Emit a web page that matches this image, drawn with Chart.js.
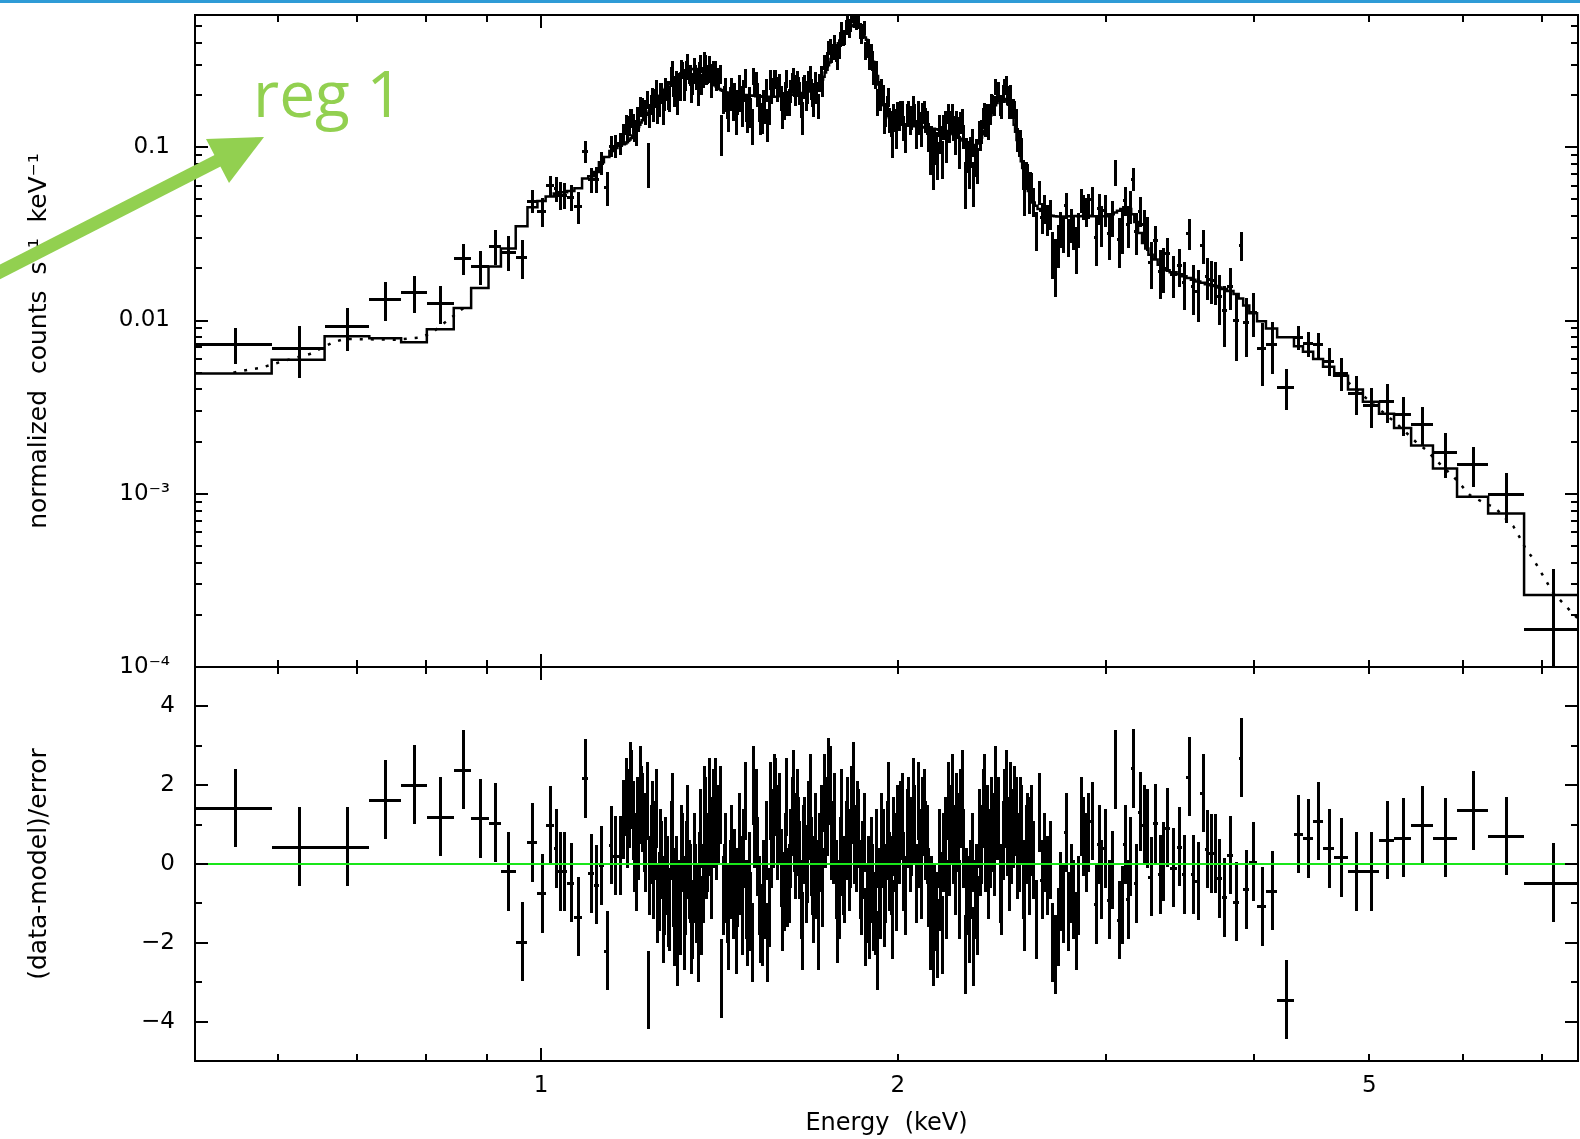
<!DOCTYPE html>
<html>
<head>
<meta charset="utf-8">
<title>reg 1 – normalized counts and residuals</title>
<script src="https://cdn.jsdelivr.net/npm/chart.js@4.4.1/dist/chart.umd.min.js"></script>
<style>
  html, body { margin: 0; padding: 0; background: #fff; }
  body { width: 1580px; height: 1139px; position: relative; overflow: hidden; }
  canvas { position: absolute; left: 0; }
  #spec { top: 0; }
  #resid { top: 654px; }
  #overlay { position: absolute; left: 0; top: 0; pointer-events: none; }
</style>
</head>
<body>
<canvas id="spec" width="1580" height="680"></canvas>
<canvas id="resid" width="1580" height="485"></canvas>
<svg id="overlay" width="1580" height="1139" xmlns="http://www.w3.org/2000/svg">
  <rect x="0" y="0" width="1580" height="3" fill="#2e9bd6"/>
  <line x1="-8" y1="276" x2="221" y2="159" stroke="#92d050" stroke-width="13"/>
  <polygon points="264,137 206,139 229,183" fill="#92d050"/>
  <text x="253" y="117" font-family="Open Sans" font-size="64" fill="#92d050">reg 1</text>
</svg>
<script>
// ---------------- data ----------------
// bin edges in keV (N+1 values)
const binEdges = [
  0.5105, 0.5925, 0.6567, 0.7163, 0.762, 0.801, 0.844, 0.873, 0.903, 0.925, 0.952, 0.974, 0.993, 1.009, 1.025, 1.033, 1.041, 1.052, 1.067, 1.083, 1.096, 1.108, 1.119, 1.130, 1.142, 1.151, 1.160, 1.170,
  1.177, 1.1805, 1.184, 1.187, 1.190, 1.1935, 1.197, 1.200, 1.203, 1.2065, 1.210, 1.213, 1.216, 1.2195, 1.223, 1.226, 1.229, 1.2325, 1.236, 1.239,
  1.242, 1.2455, 1.249, 1.252, 1.255, 1.2585, 1.262, 1.265, 1.268, 1.2715, 1.275, 1.278, 1.281, 1.2845, 1.288, 1.291, 1.294, 1.2975, 1.301, 1.3045,
  1.308, 1.311, 1.314, 1.3175, 1.321, 1.324, 1.327, 1.3305, 1.334, 1.337, 1.340, 1.3435, 1.347, 1.3505, 1.354, 1.357, 1.360, 1.3635, 1.367, 1.3705,
  1.374, 1.377, 1.380, 1.3835, 1.387, 1.3905, 1.394, 1.397,
  1.400, 1.404, 1.408, 1.4125, 1.417, 1.421, 1.425, 1.429, 1.433, 1.437, 1.441, 1.4455, 1.450, 1.454, 1.458, 1.462, 1.466, 1.4705, 1.475, 1.479,
  1.483, 1.487, 1.491, 1.4955, 1.500, 1.504, 1.508, 1.512, 1.516, 1.5205, 1.525, 1.529, 1.533, 1.537, 1.541, 1.5455, 1.550, 1.554, 1.558, 1.562,
  1.566, 1.5705, 1.575, 1.579, 1.583, 1.587, 1.591, 1.5955, 1.600, 1.604, 1.608, 1.612, 1.616, 1.6205, 1.625, 1.629, 1.633, 1.637, 1.641, 1.6455,
  1.650, 1.654, 1.658, 1.662, 1.666, 1.6705, 1.675, 1.679, 1.683, 1.687, 1.691, 1.6955,
  1.700, 1.705, 1.710, 1.715, 1.720, 1.725, 1.730, 1.735, 1.740, 1.745, 1.750, 1.755, 1.760, 1.765, 1.770, 1.775, 1.780, 1.785, 1.790, 1.795,
  1.800, 1.805, 1.810, 1.815, 1.820, 1.825, 1.830, 1.835, 1.840, 1.845, 1.850, 1.855, 1.860, 1.865, 1.870, 1.875, 1.880, 1.885, 1.890, 1.895,
  1.900, 1.905, 1.910, 1.915, 1.920, 1.925, 1.930, 1.935, 1.940, 1.945, 1.950, 1.955, 1.960, 1.965, 1.970, 1.975, 1.980, 1.985, 1.990, 1.995,
  2.000, 2.006, 2.012, 2.0185, 2.025, 2.0315, 2.038, 2.044, 2.050, 2.056, 2.062, 2.0685, 2.075, 2.0815, 2.088, 2.094, 2.100, 2.106, 2.112, 2.1185,
  2.125, 2.1315, 2.138, 2.144, 2.150, 2.156, 2.162, 2.1685, 2.175, 2.1815, 2.188, 2.194, 2.200, 2.206, 2.212, 2.2185, 2.225, 2.2315, 2.238, 2.244,
  2.250, 2.256, 2.262, 2.2685, 2.275, 2.2815, 2.288, 2.294, 2.300, 2.306, 2.312, 2.3185, 2.325, 2.3315, 2.338, 2.344, 2.350, 2.356, 2.362, 2.3685,
  2.375, 2.3815, 2.388, 2.394,
  2.400, 2.407, 2.414, 2.421, 2.428, 2.435, 2.442, 2.449, 2.456, 2.463, 2.470, 2.477, 2.484, 2.491, 2.498, 2.505, 2.512, 2.519, 2.526, 2.533,
  2.540, 2.547, 2.554, 2.561, 2.568, 2.575, 2.582, 2.589,
  2.596, 2.610, 2.624, 2.638, 2.652, 2.666, 2.680, 2.694, 2.708, 2.722, 2.736, 2.750, 2.764, 2.778, 2.792, 2.806, 2.820, 2.834, 2.848, 2.862, 2.876, 2.890,
  2.904, 2.928, 2.948, 2.962, 2.980, 3.002, 3.024, 3.043, 3.062, 3.082, 3.100, 3.118, 3.134, 3.148, 3.167, 3.190, 3.215, 3.235, 3.255, 3.282, 3.314, 3.340, 3.361, 3.392, 3.438, 3.475, 3.505, 3.535, 3.566, 3.600, 3.632, 3.661, 3.689, 3.719, 3.752, 3.792, 3.840, 3.879, 3.913, 3.960, 4.020, 4.090,
  4.180, 4.319, 4.395, 4.483, 4.570, 4.670, 4.797, 4.938, 5.095, 5.246, 5.423, 5.658, 5.929, 6.298, 6.754, 7.53
];

// folded model per bin (normalized counts s^-1 keV^-1)
const modelCounts = [
  0.00494, 0.00594, 0.0081, 0.0079, 0.0075, 0.0089, 0.0118, 0.0154, 0.0205, 0.026, 0.035, 0.045, 0.049, 0.052, 0.054, 0.055, 0.055, 0.056, 0.058, 0.066, 0.068, 0.072, 0.082, 0.088, 0.095, 0.099, 0.102, 0.104,
  0.105, 0.107, 0.109, 0.111, 0.113, 0.117, 0.120, 0.124, 0.127, 0.131, 0.135, 0.139, 0.143, 0.147, 0.150, 0.154, 0.157, 0.161, 0.165, 0.169,
  0.174, 0.178, 0.183, 0.188, 0.193, 0.198, 0.203, 0.208, 0.212, 0.217, 0.222, 0.227, 0.232, 0.237, 0.241, 0.245, 0.249, 0.253, 0.257, 0.261,
  0.264, 0.267, 0.270, 0.273, 0.275, 0.277, 0.279, 0.280, 0.281, 0.282, 0.283, 0.283, 0.283, 0.283, 0.282, 0.280, 0.278, 0.275, 0.272, 0.268,
  0.264, 0.259, 0.255, 0.250, 0.245, 0.240, 0.236, 0.231,
  0.228, 0.224, 0.220, 0.217, 0.214, 0.212, 0.210, 0.208, 0.207, 0.206, 0.205, 0.205, 0.204, 0.204, 0.203, 0.203, 0.202, 0.202, 0.201, 0.201,
  0.200, 0.200, 0.199, 0.199, 0.199, 0.199, 0.198, 0.198, 0.197, 0.197, 0.197, 0.197, 0.196, 0.196, 0.196, 0.196, 0.196, 0.196, 0.196, 0.196,
  0.196, 0.196, 0.196, 0.196, 0.197, 0.197, 0.197, 0.197, 0.198, 0.198, 0.199, 0.199, 0.200, 0.200, 0.201, 0.201, 0.202, 0.202, 0.203, 0.203,
  0.204, 0.205, 0.206, 0.206, 0.207, 0.208, 0.209, 0.210, 0.211, 0.212, 0.213, 0.215,
  0.218, 0.220, 0.223, 0.228, 0.234, 0.246, 0.255, 0.270, 0.280, 0.297, 0.308, 0.323, 0.338, 0.353, 0.368, 0.383, 0.398, 0.413, 0.428, 0.443,
  0.455, 0.466, 0.476, 0.485, 0.491, 0.499, 0.505, 0.510, 0.510, 0.506, 0.500, 0.490, 0.480, 0.462, 0.452, 0.430, 0.418, 0.392, 0.380, 0.350,
  0.338, 0.312, 0.300, 0.270, 0.258, 0.230, 0.220, 0.198, 0.190, 0.175, 0.168, 0.160, 0.155, 0.149, 0.145, 0.141, 0.139, 0.138, 0.137, 0.136,
  0.136, 0.136, 0.135, 0.135, 0.134, 0.134, 0.134, 0.134, 0.133, 0.133, 0.132, 0.132, 0.131, 0.131, 0.131, 0.131, 0.130, 0.130, 0.129, 0.129,
  0.128, 0.128, 0.128, 0.128, 0.127, 0.127, 0.126, 0.126, 0.125, 0.125, 0.124, 0.124, 0.123, 0.122, 0.121, 0.120, 0.119, 0.118, 0.117, 0.115,
  0.114, 0.112, 0.111, 0.109, 0.108, 0.106, 0.105, 0.104, 0.103, 0.102, 0.102, 0.102, 0.103, 0.105, 0.107, 0.110, 0.114, 0.119, 0.124, 0.129,
  0.135, 0.141, 0.147, 0.153,
  0.160, 0.170, 0.175, 0.180, 0.185, 0.188, 0.190, 0.190, 0.190, 0.187, 0.183, 0.176, 0.168, 0.158, 0.148, 0.135, 0.123, 0.110, 0.100, 0.091,
  0.083, 0.076, 0.069, 0.064, 0.059, 0.056, 0.053, 0.050,
  0.048, 0.046, 0.044, 0.043, 0.042, 0.041, 0.0405, 0.0402, 0.0400, 0.0399, 0.0398, 0.0398, 0.0399, 0.0400, 0.0400, 0.0401, 0.0401, 0.0400, 0.0400, 0.0401, 0.0402, 0.0402,
  0.040, 0.040, 0.040, 0.040, 0.040, 0.041, 0.041, 0.042, 0.043, 0.044, 0.045, 0.045, 0.044, 0.041, 0.037, 0.032, 0.028, 0.026, 0.024, 0.0225, 0.021, 0.020, 0.0195, 0.019, 0.0185, 0.018, 0.0176, 0.0172, 0.0168, 0.0165, 0.0162, 0.0160, 0.0158, 0.0155, 0.0152, 0.0148, 0.0142, 0.0134, 0.0122, 0.0110, 0.0099, 0.0090,
  0.0080, 0.0071, 0.0066, 0.0060, 0.0054, 0.0048, 0.0040, 0.0034, 0.0029, 0.0024, 0.0019, 0.0014, 0.00096, 0.00077, 0.00026
];

// (data-model)/error per bin
const residuals = [
  1.42, 0.44, 0.44, 1.63, 2.01, 1.20, 2.39, 1.16, 1.05, -0.19, -1.97, 0.55, -0.74, 0.99, 0.40, -0.19, -0.19, -0.47, -1.34, 2.18, -0.24, -0.53, -0.03, -2.20, 0.48, 0.21, 0.21, 1.12,
  1.7, 0.9, 1.4, 2.1, 1.9, 1.1, 0.3, -0.2, 1.2, 0.6, 2.0, 1.5, 1.3, 0.8, 0.3, 1.6, -3.2, -0.3, 0.5, 1.1,
  -0.4, 0.6, 1.4, -1.0, -0.7, 0.4, 0.1, -1.5, -0.8, 0.2, -0.3, -1.1, -1.2, 0.6, 1.3, -0.6, -1.6, -0.3, -2.1, -0.9,
  -1.3, 0.5, 0.3, -1.7, -0.8, 0.1, 1.0, -0.4, -0.5, -1.8, -1.4, 0.3, -0.5, -1.0, -2.0, -0.2, 0.9, -1.3, -0.5, 1.5,
  1.2, 0.1, 0.3, 1.7, 0.7, -0.4, 1.4, 0.9,
  1.7, 0.6, 1.0, 1.5, -2.9, -0.8, -0.5, 0.3, -1.0, -1.7, -0.4, 0.5, -0.9, -0.1, -1.8, -0.6, 0.8, -0.3, -1.3, 0.4,
  1.6, -0.9, -1.6, -0.2, -1.2, -2.0, 2.0, 0.9, 1.4, 0.2, -0.8, -1.5, -1.6, -0.4, -0.9, 0.6, -2.0, -1.1, 1.6, 0.4,
  0.9, 1.8, 1.7, 0.6, 1.0, 1.3, -0.1, -1.2, -0.7, 0.3, 1.7, -0.6, -0.5, 0.4, 1.2, 1.9, 0.8, 0.1, 1.4, 0.7,
  0.1, -0.9, -1.7, 0.5, 0.7, -0.5, 0.0, 1.1, 1.8, 0.2, -0.3, -1.0,
  0.8, -0.4, -1.7, 0.3, 1.0, -0.6, 1.8, 0.9, 1.2, 2.2, 2.0, 0.6, 0.5, 1.3, -0.4, -1.5, -0.9, 0.2, 1.4, -0.3,
  -0.5, 0.6, 1.2, -0.2, 0.4, 1.5, 2.1, 0.5, 0.3, 1.1, 0.9, -0.4, -0.8, 0.1, 0.8, -1.6, -1.0, -0.3, -1.4, 0.2,
  -0.5, -1.2, -1.3, 0.4, -2.2, -0.6, -0.9, 0.8, 0.4, -1.1, -0.5, 0.6, 1.6, -0.2, -0.3, -1.4, 0.7, 0.3, -0.7, 1.0,
  0.5, 1.1, 1.3, -0.2, -0.8, 0.9, 1.2, 0.3, 0.7, 1.7, 1.0, -0.5, 1.6, 0.4, -0.4, 1.2, 1.4, 0.6, 0.5, -0.6,
  -1.7, -0.8, -2.1, -1.0, -1.2, -1.9, 0.4, -0.7, -1.8, 0.3, 0.7, -0.9, 1.6, 0.2, 1.0, 1.8, 0.5, -0.3, 1.3, 0.8,
  -0.9, 1.4, 1.9, 0.4, -2.3, -0.6, -0.8, -1.5, -0.4, 0.3, -2.1, -0.9, -0.5, -1.3, 0.9, 0.2, 0.5, 1.4, 1.8, 0.3,
  1.0, -0.4, 0.4, 1.2,
  0.8, 0.2, 2.0, 1.1, 1.2, -0.5, -0.8, 0.6, 1.4, 1.9, 0.7, -0.2, 1.6, 0.5, 0.9, 1.5, 1.2, 0.1, 0.3, 1.2,
  1.0, -0.4, -1.2, 0.5, 0.8, -0.3, 0.7, 1.0,
  0.1, -1.4, 1.3, -0.4, 0.3, -0.3, 0.1, -2.0, -2.3, -1.6, -0.7, -1.0, 0.8, -1.2, -0.5, -0.9, -1.7, -0.8, 1.2, 0.7, 0.3, 0.8,
  1.09, -1.02, 0.5, -0.4, 0.40, -0.91, -0.15, 2.39, -1.42, -1.04, 0.5, -0.9, 0.2, 2.43, -0.49, 1.33, 1.0, 0.9, -0.32, 1.03, -0.26, 0.06, 0.92, -0.09, 0.44, -0.26, 2.22, -0.26, -0.43, 1.8, 0.38, 0.27, 0.27, -0.36, -0.85, 0.23, -0.96, 2.7, -0.64, 0.06, -1.07, -0.68,
  -3.44, 0.76, 0.65, 1.09, 0.40, 0.17, -0.19, -0.19, 0.61, 0.67, 0.99, 0.67, 1.36, 0.71, -0.47
];

// 1-sigma error of each bin, as a fraction of the model value
const errFrac = [
  0.34, 0.39, 0.32, 0.42, 0.47, 0.35, 0.40, 0.29, 0.30, 0.22, 0.17, 0.17, 0.17, 0.16, 0.18, 0.18, 0.17, 0.16, 0.16, 0.20, 0.16, 0.16, 0.15, 0.15, 0.15, 0.15, 0.15, 0.15,
  0.17, 0.17, 0.16, 0.16, 0.16, 0.16, 0.15, 0.15, 0.16, 0.16, 0.15, 0.15, 0.15, 0.15, 0.14, 0.14, 0.15, 0.15, 0.14, 0.14,
  0.14, 0.14, 0.14, 0.14, 0.13, 0.13, 0.14, 0.14, 0.13, 0.13, 0.13, 0.13, 0.14, 0.14, 0.13, 0.13, 0.12, 0.12, 0.13, 0.13,
  0.13, 0.13, 0.12, 0.12, 0.13, 0.13, 0.12, 0.12, 0.13, 0.13, 0.12, 0.12, 0.12, 0.12, 0.13, 0.13, 0.12, 0.12, 0.13, 0.13,
  0.13, 0.13, 0.13, 0.13, 0.14, 0.14, 0.14, 0.14,
  0.14, 0.14, 0.15, 0.15, 0.15, 0.15, 0.16, 0.16, 0.15, 0.15, 0.15, 0.15, 0.16, 0.16, 0.15, 0.15, 0.16, 0.16, 0.15, 0.15,
  0.16, 0.16, 0.15, 0.15, 0.16, 0.16, 0.15, 0.15, 0.16, 0.16, 0.16, 0.16, 0.15, 0.15, 0.16, 0.16, 0.15, 0.15, 0.16, 0.16,
  0.15, 0.15, 0.16, 0.16, 0.15, 0.15, 0.16, 0.16, 0.16, 0.16, 0.15, 0.15, 0.16, 0.16, 0.15, 0.15, 0.16, 0.16, 0.15, 0.15,
  0.15, 0.15, 0.16, 0.16, 0.15, 0.15, 0.15, 0.15, 0.14, 0.14, 0.15, 0.15,
  0.14, 0.14, 0.13, 0.13, 0.13, 0.13, 0.12, 0.12, 0.12, 0.12, 0.12, 0.12, 0.11, 0.11, 0.11, 0.11, 0.10, 0.10, 0.10, 0.10,
  0.10, 0.10, 0.10, 0.10, 0.09, 0.09, 0.09, 0.09, 0.09, 0.09, 0.10, 0.10, 0.10, 0.10, 0.10, 0.10, 0.11, 0.11, 0.11, 0.11,
  0.12, 0.12, 0.12, 0.12, 0.13, 0.13, 0.14, 0.14, 0.15, 0.15, 0.15, 0.15, 0.16, 0.16, 0.16, 0.16, 0.16, 0.16, 0.17, 0.17,
  0.17, 0.17, 0.16, 0.16, 0.17, 0.17, 0.17, 0.17, 0.18, 0.18, 0.17, 0.17, 0.16, 0.16, 0.17, 0.17, 0.18, 0.18, 0.17, 0.17,
  0.17, 0.17, 0.18, 0.18, 0.17, 0.17, 0.16, 0.16, 0.17, 0.17, 0.18, 0.18, 0.17, 0.17, 0.17, 0.17, 0.18, 0.18, 0.17, 0.17,
  0.18, 0.18, 0.17, 0.17, 0.18, 0.18, 0.18, 0.18, 0.19, 0.19, 0.18, 0.18, 0.18, 0.18, 0.17, 0.17, 0.17, 0.17, 0.16, 0.16,
  0.16, 0.16, 0.15, 0.15,
  0.14, 0.14, 0.14, 0.14, 0.13, 0.13, 0.13, 0.13, 0.13, 0.13, 0.14, 0.14, 0.14, 0.14, 0.15, 0.15, 0.16, 0.16, 0.17, 0.17,
  0.18, 0.18, 0.19, 0.19, 0.20, 0.20, 0.21, 0.21,
  0.19, 0.19, 0.20, 0.19, 0.20, 0.19, 0.20, 0.19, 0.20, 0.19, 0.20, 0.19, 0.20, 0.19, 0.20, 0.19, 0.20, 0.19, 0.20, 0.19, 0.20, 0.19,
  0.23, 0.24, 0.23, 0.24, 0.23, 0.24, 0.23, 0.30, 0.22, 0.22, 0.21, 0.22, 0.22, 0.25, 0.24, 0.26, 0.28, 0.28, 0.28, 0.28, 0.29, 0.30, 0.28, 0.27, 0.28, 0.29, 0.37, 0.30, 0.29, 0.36, 0.30, 0.30, 0.30, 0.29, 0.29, 0.29, 0.30, 0.38, 0.30, 0.29, 0.28, 0.27,
  0.14, 0.18, 0.18, 0.20, 0.20, 0.22, 0.24, 0.25, 0.30, 0.30, 0.33, 0.36, 0.40, 0.42, 0.77
];

// unbinned model (dotted curve), visible outside the dense band; null = hidden
const dotEnergy = [0.55, 0.5667, 0.5795, 0.6082, 0.6382, 0.6676, 0.6825, 0.7545, 0.7919, 0.8099, 0.825, 0.8425, 0.86, 2.0,
                   4.797, 4.974, 5.273, 5.483, 5.590, 5.681, 5.884, 5.984, 6.081, 6.240, 6.383, 6.614, 6.687, 6.766, 6.876, 6.966, 7.058, 7.126, 7.30, 7.50];
const dotModel  = [0.0050, 0.0052, 0.00532, 0.00587, 0.00641, 0.00748, 0.00782, 0.00775, 0.00799, 0.00854, 0.00946, 0.01056, 0.0118, null,
                   0.0044, 0.00354, 0.00254, 0.00197, 0.00178, 0.00158, 0.00126, 0.00111, 0.00098, 0.00089, 0.00083, 0.00065, 0.00057, 0.00049, 0.00042, 0.00036, 0.00031, 0.000275, 0.00023, 0.00019];

// axes
const xMin = 0.5105, xMax = 7.5;
const xTickValues = [1, 2, 5];
const xTickText = ['1', '2', '5'];
const xMajorTicks = [1];
const xMinorTicks = [0.6, 0.7, 0.8, 0.9, 2, 3, 4, 5, 6, 7];
const yMin = 1e-4, yMax = 0.58;
const yTickValues = [1e-4, 1e-3, 0.01, 0.1];
const yTickText = ['10⁻⁴', '10⁻³', '0.01', '0.1'];
const yMajorTicks = [1e-4, 1e-3, 0.01, 0.1];
const yMinorTicks = [2e-4, 3e-4, 4e-4, 5e-4, 6e-4, 7e-4, 8e-4, 9e-4, 2e-3, 3e-3, 4e-3, 5e-3, 6e-3, 7e-3, 8e-3, 9e-3,
                     0.02, 0.03, 0.04, 0.05, 0.06, 0.07, 0.08, 0.09, 0.2, 0.3, 0.4, 0.5];
const rMin = -5, rMax = 5;
const rTickValues = [-4, -2, 0, 2, 4];
const rTickText = ['−4', '−2', '0', '2', '4'];
const rMajorTicks = [-4, -2, 0, 2, 4];
const rMinorTicks = [-3, -1, 1, 3];
const residSigma = 1;

// ---------------- sanity check ----------------
const nBins = modelCounts.length;
const problems = [];
if (binEdges.length !== nBins + 1) problems.push('edges ' + binEdges.length + ' model ' + nBins);
if (residuals.length !== nBins) problems.push('resid ' + residuals.length);
if (errFrac.length !== nBins) problems.push('err ' + errFrac.length);
if (dotEnergy.length !== dotModel.length) problems.push('dot');
if (problems.length) {
  const d = document.createElement('div');
  d.textContent = problems.join('; ');
  d.style.cssText = 'position:absolute;left:600px;top:400px;color:red;font-size:30px;z-index:9';
  document.body.appendChild(d);
}

// ---------------- derived per-bin quantities ----------------
const loEdges = binEdges.slice(0, nBins);
const hiEdges = binEdges.slice(1);
const centres = loEdges.map((lo, i) => (lo + hiEdges[i]) / 2);
const rateErr = modelCounts.map((m, i) => m * errFrac[i]);
const rates = modelCounts.map((m, i) => m + residuals[i] * rateErr[i]);

const specPts = centres.map((x, i) => ({ x, y: rates[i] }));
const residPts = centres.map((x, i) => ({ x, y: residuals[i] }));
const stepPts = loEdges.map((x, i) => ({ x, y: modelCounts[i] }));
stepPts.push({ x: binEdges[nBins], y: modelCounts[nBins - 1] });
const dotPts = dotEnergy.map((x, i) => ({ x, y: dotModel[i] }));

// ---------------- plugins ----------------
const BAR_W = 3;
function drawErrorBars(chart) {
  const { ctx, chartArea: a } = chart;
  const xs = chart.scales.x;
  const h = BAR_W % 2 ? 0.5 : 0;
  chart.data.datasets.forEach((ds, di) => {
    if (!ds.errBars) return;
    const meta = chart.getDatasetMeta(di);
    const ys = chart.scales[meta.yAxisID];
    const floor = ys.type === 'logarithmic' ? ys.min / 10 : -Infinity;
    ctx.save();
    ctx.beginPath();
    ctx.rect(a.left, a.top, a.right - a.left, a.bottom - a.top);
    ctx.clip();
    ctx.strokeStyle = '#000';
    ctx.lineWidth = BAR_W;
    ctx.lineCap = 'butt';
    ctx.beginPath();
    meta.data.forEach((pt, i) => {
      const v = ds.data[i].y;
      const e = ds.yErr ? ds.yErr[i] : ds.yErrConst;
      const xl = Math.round(xs.getPixelForValue(ds.xLo[i]));
      const xh = Math.round(xs.getPixelForValue(ds.xHi[i]));
      const yt = Math.round(ys.getPixelForValue(v + e));
      const yb = Math.round(ys.getPixelForValue(Math.max(v - e, floor)));
      const px = Math.round(pt.x) + h, py = Math.round(pt.y) + h;
      ctx.moveTo(xl, py); ctx.lineTo(xh, py);
      ctx.moveTo(px, yt); ctx.lineTo(px, yb);
    });
    ctx.stroke();
    ctx.restore();
  });
}

const errBarPlugin = {
  id: 'errBars',
  beforeDatasetsDraw(chart, args, opts) { if (!opts.onTop) drawErrorBars(chart); },
  afterDatasetsDraw(chart, args, opts) { if (opts.onTop) drawErrorBars(chart); }
};

const framePlugin = {
  id: 'frameTicks',
  afterDraw(chart, args, opts) {
    const { ctx, chartArea: a } = chart;
    const xs = chart.scales.x, ys = chart.scales[opts.yId];
    ctx.save();
    ctx.strokeStyle = '#000';
    ctx.lineWidth = 2;
    ctx.lineCap = 'butt';
    ctx.strokeRect(a.left, a.top, a.right - a.left, a.bottom - a.top);
    ctx.beginPath();
    const tickX = (vals, len) => vals.forEach(v => {
      const p = Math.round(xs.getPixelForValue(v));
      ctx.moveTo(p, a.top); ctx.lineTo(p, a.top + len);
      ctx.moveTo(p, a.bottom); ctx.lineTo(p, a.bottom - len);
    });
    const tickY = (vals, len) => vals.forEach(v => {
      const p = Math.round(ys.getPixelForValue(v));
      ctx.moveTo(a.left, p); ctx.lineTo(a.left + len, p);
      ctx.moveTo(a.right, p); ctx.lineTo(a.right - len, p);
    });
    tickX(opts.xMajor, 13); tickX(opts.xMinor, 7);
    tickY(opts.yMajor, 13); tickY(opts.yMinor, 7);
    ctx.stroke();
    ctx.restore();
  }
};

Chart.defaults.font.family = "'DejaVu Sans', 'Liberation Sans', sans-serif";
Chart.defaults.color = '#000';

const labelFrom = (vals, texts) => (value) => {
  const k = vals.findIndex(v => Math.abs(v - value) <= Math.abs(v) * 1e-6 + 1e-12);
  return k >= 0 ? texts[k] : '';
};
const fixWidth = w => s => { s.width = w; s.paddingTop = 0; s.paddingBottom = 0; };
const fixHeight = h => s => { s.height = h; s.paddingLeft = 0; s.paddingRight = 0; };

// ---------------- upper panel: normalized counts ----------------
new Chart(document.getElementById('spec'), {
  type: 'line',
  data: {
    datasets: [
      { type: 'scatter', label: 'data', data: specPts, xLo: loEdges, xHi: hiEdges, yErr: rateErr, errBars: true,
        pointRadius: 0, pointHoverRadius: 0, borderColor: '#000', backgroundColor: '#000' },
      { label: 'folded model', data: stepPts, stepped: true, borderColor: '#000', borderWidth: 2.5,
        pointRadius: 0, fill: false },
      { label: 'model', data: dotPts, borderColor: '#000', borderWidth: 2.5, borderDash: [3, 8],
        pointRadius: 0, fill: false, spanGaps: false }
    ]
  },
  options: {
    responsive: false, animation: false, devicePixelRatio: 1,
    layout: { padding: { left: 0, top: 15, right: 2, bottom: 13 } },
    plugins: {
      legend: { display: false }, tooltip: { enabled: false },
      errBars: { onTop: true },
      frameTicks: { yId: 'y', xMajor: xMajorTicks, xMinor: xMinorTicks, yMajor: yMajorTicks, yMinor: yMinorTicks }
    },
    scales: {
      x: { type: 'logarithmic', min: xMin, max: xMax, display: false, afterFit: fixHeight(0) },
      y: {
        type: 'logarithmic', min: yMin, max: yMax, position: 'left',
        afterFit: fixWidth(195),
        afterBuildTicks: s => { s.ticks = yTickValues.map(v => ({ value: v })); },
        ticks: { autoSkip: false, padding: 25, font: { size: 23 }, color: '#000', callback: labelFrom(yTickValues, yTickText) },
        grid: { display: false, drawTicks: false },
        border: { display: false },
        title: { display: true, text: 'normalized  counts  s⁻¹  keV⁻¹', font: { size: 25 }, color: '#000', padding: { top: 24, bottom: 0 } }
      }
    }
  },
  plugins: [errBarPlugin, framePlugin]
});

// ---------------- lower panel: residuals ----------------
new Chart(document.getElementById('resid'), {
  type: 'line',
  data: {
    datasets: [
      { type: 'scatter', label: 'residuals', data: residPts, xLo: loEdges, xHi: hiEdges, yErrConst: residSigma, errBars: true,
        pointRadius: 0, pointHoverRadius: 0, borderColor: '#000', backgroundColor: '#000' },
      { label: 'zero', data: [{ x: xMin, y: 0 }, { x: xMax, y: 0 }], borderColor: '#19e619', borderWidth: 2,
        pointRadius: 0, fill: false }
    ]
  },
  options: {
    responsive: false, animation: false, devicePixelRatio: 1,
    layout: { padding: { left: 0, top: 13, right: 2, bottom: 0 } },
    plugins: {
      legend: { display: false }, tooltip: { enabled: false },
      errBars: { onTop: false },
      frameTicks: { yId: 'y', xMajor: xMajorTicks, xMinor: xMinorTicks, yMajor: rMajorTicks, yMinor: rMinorTicks }
    },
    scales: {
      x: {
        type: 'logarithmic', min: xMin, max: xMax, position: 'bottom',
        afterFit: fixHeight(78),
        afterBuildTicks: s => { s.ticks = xTickValues.map(v => ({ value: v })); },
        ticks: { autoSkip: false, maxRotation: 0, padding: 11, font: { size: 23 }, color: '#000', callback: labelFrom(xTickValues, xTickText) },
        grid: { display: false, drawTicks: false },
        border: { display: false },
        title: { display: true, text: 'Energy  (keV)', font: { size: 24 }, color: '#000', padding: { top: 0, bottom: 1 } }
      },
      y: {
        type: 'linear', min: rMin, max: rMax, position: 'left',
        afterFit: fixWidth(195),
        afterBuildTicks: s => { s.ticks = rTickValues.map(v => ({ value: v })); },
        ticks: { autoSkip: false, padding: 20, font: { size: 23 }, color: '#000', callback: labelFrom(rTickValues, rTickText) },
        grid: { display: false, drawTicks: false },
        border: { display: false },
        title: { display: true, text: '(data-model)/error', font: { size: 25 }, color: '#000', padding: { top: 24, bottom: 0 } }
      }
    }
  },
  plugins: [errBarPlugin, framePlugin]
});
</script>
</body>
</html>
